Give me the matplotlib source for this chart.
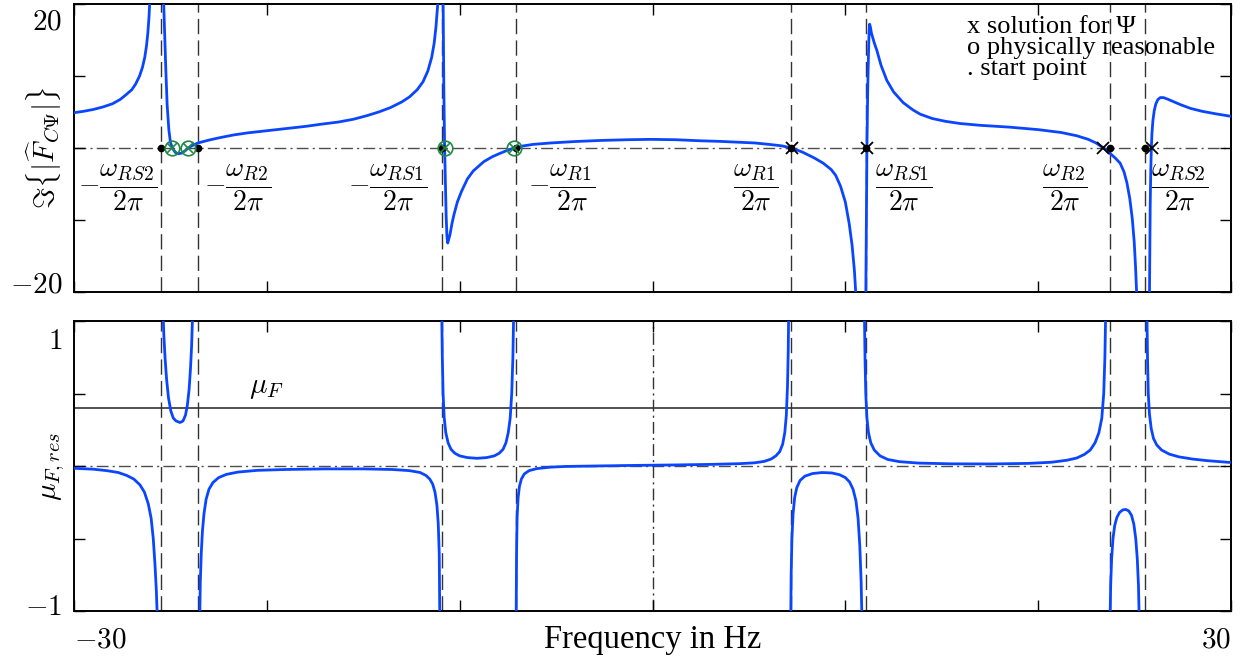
import numpy as np
import matplotlib
matplotlib.use('Agg')
import matplotlib.pyplot as plt

plt.rcParams['font.family'] = ['Liberation Serif', 'DejaVu Serif']
plt.rcParams['mathtext.fontset'] = 'cm'

# resonance / start frequencies (Hz), dashed lines
f_res = [-25.47, -23.57, -10.9, -7.08, 7.2, 11.05, 23.7, 25.55]
res_labels = [r'$-\dfrac{\omega_{RS2}}{2\pi}$', r'$-\dfrac{\omega_{R2}}{2\pi}$',
              r'$-\dfrac{\omega_{RS1}}{2\pi}$', r'$-\dfrac{\omega_{R1}}{2\pi}$',
              r'$\dfrac{\omega_{R1}}{2\pi}$', r'$\dfrac{\omega_{RS1}}{2\pi}$',
              r'$\dfrac{\omega_{R2}}{2\pi}$', r'$\dfrac{\omega_{RS2}}{2\pi}$']

# solutions for Psi
f_sol_phys = [-24.9, -24.08, -10.78, -7.19]
f_sol_other = [7.22, 11.1, 23.35, 25.9]

mu_F = 0.4

# top panel: Im{|F_CPsi|}, branches between poles
xA = [-30, -29.5, -29, -28.5, -28, -27.6, -27.3, -27.0, -26.8, -26.6, -26.45, -26.33, -26.24,
      -26.17, -26.11, -26.06]
yA = [4.9, 5.1, 5.35, 5.7, 6.15, 6.75, 7.4, 8.1, 8.9, 10.0, 11.2, 12.6, 14.2, 16.0, 18.2, 21]
xB = [-25.36, -25.3, -25.24, -25.17, -25.08, -25.0, -24.9, -24.75, -24.6, -24.4, -24.2, -24.08,
      -23.9, -23.57, -23.0, -22.5, -21.75, -21.0, -20.0, -19.0, -18.0, -17.2, -16.3, -15.5,
      -14.8, -14.2, -13.6, -13.0, -12.6, -12.2, -11.9, -11.65, -11.45, -11.32, -11.23, -11.16,
      -11.1]
yB = [21, 16, 11, 6, 2.5, 0.8, 0, -0.6, -0.8, -0.7, -0.3, 0, 0.3, 0.7, 1.1, 1.4, 1.8, 2.1,
      2.4, 2.7, 3.0, 3.3, 3.6, 4.0, 4.5, 5.0, 5.6, 6.4, 7.1, 8.1, 9.2, 10.7, 12.6, 14.6, 16.8,
      19.2, 21]
xC = [-10.86, -10.82, -10.78, -10.74, -10.7, -10.66, -10.62, -10.58, -10.5, -10.4, -10.3,
      -10.12, -9.9, -9.6, -9.3, -9.0, -8.75, -8.3, -7.87, -7.5, -7.19, -6.8, -6.2, -5.27, -4.0,
      -2.68, -1.3, -0.1, 1.2, 2.5, 3.5, 4.5, 5.3, 6.05, 6.7, 7.22, 7.8, 8.4, 8.85, 9.27, 9.5,
      9.75, 10.0, 10.2, 10.35, 10.47, 10.56]
yC = [21, 8, 0, -5, -9.5, -12.3, -13.2, -12.8, -12.0, -10.5, -9.3, -7.5, -6.0, -4.3, -3.2, -2.5,
      -1.9, -1.2, -0.7, -0.3, 0, 0.25, 0.5, 0.7, 0.9, 1.05, 1.15, 1.2, 1.15, 1.0, 0.92, 0.8, 0.7,
      0.5, 0.3, 0, -0.6, -1.4, -2.1, -3.0, -3.8, -5.3, -7.5, -10.5, -13.5, -17, -21]
xD = [11.06, 11.09, 11.12, 11.16, 11.2, 11.23, 11.26, 11.3, 11.35, 11.5, 11.63, 11.85, 12.15,
      12.5, 13.0, 13.5, 13.88, 14.5, 15.2, 15.95, 17.0, 18.5, 20.0, 21.2, 22.0, 22.6, 23.0,
      23.4, 23.75, 24.0, 24.25, 24.45, 24.6, 24.75, 24.88, 24.98, 25.05, 25.12]
yD = [-21, -10, 0, 8, 13, 16, 17.2, 16.8, 16.0, 14.6, 13.6, 11.5, 9.4, 7.8, 6.3, 5.3, 4.7, 4.1,
      3.7, 3.4, 3.15, 2.9, 2.55, 2.15, 1.7, 1.2, 0.7, 0, -0.8, -1.4, -2.1, -3.3, -4.8, -7.0,
      -9.8, -13, -16.5, -21]
xE = [25.77, 25.79, 25.81, 25.84, 25.87, 25.9, 25.95, 26.02, 26.1, 26.2, 26.33, 26.5, 26.7,
      27.0, 27.4, 27.9, 28.5, 29.2, 30]
yE = [-21, -14, -8, -3, 0, 2, 3.8, 5.2, 6.1, 6.7, 7.0, 7.0, 6.8, 6.45, 6.0, 5.5, 5.1, 4.75, 4.4]

# bottom panel: mu_F,res
bx1 = [-30, -29, -28.3, -27.7, -27.27, -26.9, -26.58, -26.35, -26.15, -26.0, -25.89, -25.8,
       -25.73, -25.68]
by1 = [-0.016, -0.022, -0.032, -0.045, -0.065, -0.09, -0.13, -0.18, -0.26, -0.36, -0.5, -0.68,
       -0.86, -1.05]
bx2 = [-25.38, -25.34, -25.28, -25.2, -25.1, -24.98, -24.85, -24.7, -24.5, -24.35, -24.22,
       -24.12, -24.03, -23.96, -23.9, -23.85]
by2 = [1.05, 0.9, 0.75, 0.6, 0.47, 0.38, 0.33, 0.31, 0.3, 0.31, 0.35, 0.42, 0.53, 0.67, 0.83,
       1.05]
bx3 = [-23.48, -23.45, -23.4, -23.34, -23.26, -23.15, -23.0, -22.8, -22.5, -22.1, -21.5, -20.5,
       -19, -17, -15, -13.5, -12.6, -12.05, -11.75, -11.55, -11.4, -11.28, -11.18, -11.11,
       -11.06, -11.03]
by3 = [-1.05, -0.8, -0.6, -0.45, -0.33, -0.23, -0.16, -0.115, -0.08, -0.058, -0.042, -0.03,
       -0.024, -0.02, -0.02, -0.024, -0.032, -0.045, -0.065, -0.09, -0.125, -0.18, -0.27, -0.4,
       -0.6, -1.05]
bx4 = [-10.93, -10.9, -10.86, -10.8, -10.72, -10.6, -10.45, -10.25, -10.0, -9.6, -9.1, -8.6,
       -8.2, -7.95, -7.75, -7.6, -7.48, -7.38, -7.3, -7.24, -7.2]
by4 = [1.05, 0.75, 0.5, 0.33, 0.23, 0.16, 0.115, 0.088, 0.07, 0.058, 0.053, 0.058, 0.07, 0.088,
       0.115, 0.16, 0.23, 0.33, 0.5, 0.75, 1.05]
bx5 = [-7.07, -7.05, -7.02, -6.97, -6.9, -6.8, -6.65, -6.4, -6.0, -5.3, -4.5, -3, -1, 1, 3, 4.5,
       5.3, 5.8, 6.15, 6.4, 6.6, 6.75, 6.86, 6.94, 7.0, 7.04, 7.06]
by5 = [-1.05, -0.6, -0.35, -0.22, -0.14, -0.09, -0.055, -0.032, -0.018, -0.008, -0.003, 0.0,
       0.004, 0.007, 0.011, 0.016, 0.022, 0.032, 0.048, 0.07, 0.1, 0.15, 0.23, 0.35, 0.55, 0.8,
       1.05]
bx6 = [7.17, 7.19, 7.23, 7.29, 7.37, 7.48, 7.65, 7.9, 8.3, 8.8, 9.3, 9.7, 10.0, 10.22, 10.4,
       10.55, 10.66, 10.75, 10.82, 10.86]
by6 = [-1.05, -0.75, -0.5, -0.33, -0.22, -0.15, -0.1, -0.07, -0.052, -0.045, -0.048, -0.06,
       -0.08, -0.11, -0.16, -0.24, -0.36, -0.55, -0.8, -1.05]
bx7 = [10.99, 11.02, 11.06, 11.12, 11.2, 11.32, 11.5, 11.8, 12.2, 12.8, 13.8, 15.5, 17.5, 19.5,
       20.7, 21.5, 22.0, 22.4, 22.7, 22.95, 23.15, 23.3, 23.4, 23.46, 23.5]
by7 = [1.05, 0.75, 0.5, 0.33, 0.23, 0.16, 0.11, 0.07, 0.045, 0.03, 0.02, 0.015, 0.014, 0.018,
       0.026, 0.04, 0.055, 0.08, 0.11, 0.16, 0.23, 0.33, 0.5, 0.75, 1.05]
bx8 = [23.73, 23.76, 23.81, 23.88, 23.97, 24.08, 24.22, 24.4, 24.55, 24.7, 24.84, 24.96, 25.06,
       25.14, 25.2, 25.24]
by8 = [-1.05, -0.82, -0.64, -0.5, -0.41, -0.355, -0.32, -0.302, -0.3, -0.31, -0.34, -0.4, -0.5,
       -0.64, -0.82, -1.05]
bx9 = [25.64, 25.67, 25.71, 25.77, 25.86, 25.98, 26.15, 26.4, 26.8, 27.3, 28.0, 28.75, 29.4, 30]
by9 = [1.05, 0.75, 0.5, 0.36, 0.26, 0.19, 0.145, 0.11, 0.082, 0.063, 0.048, 0.037, 0.03, 0.024]


def join(segs):
    xs, ys = [], []
    for sx, sy in segs:
        xs += list(sx) + [np.nan]
        ys += list(sy) + [np.nan]
    return np.array(xs), np.array(ys)


top_x, top_y = join([(xA, yA), (xB, yB), (xC, yC), (xD, yD), (xE, yE)])
bot_x, bot_y = join([(bx1, by1), (bx2, by2), (bx3, by3), (bx4, by4), (bx5, by5),
                     (bx6, by6), (bx7, by7), (bx8, by8), (bx9, by9)])

blue = '#0a46ff'
green = '#1f8a45'
dash = (0, (11, 4.5))
dashdot = (0, (8.5, 3, 1.5, 3))

fig = plt.figure(figsize=(12.44, 6.64), dpi=100)
ax1 = fig.add_axes([74 / 1244, 1 - 292 / 664, 1157 / 1244, 288 / 664])
ax2 = fig.add_axes([74 / 1244, 1 - 611 / 664, 1157 / 1244, 290 / 664])

for ax in (ax1, ax2):
    for f in f_res:
        ax.axvline(f, color='0.2', lw=1.0, linestyle=dash, zorder=1)
    ax.axhline(0, color='0.3', lw=1.0, linestyle=dashdot, zorder=1)
    ax.set_xlim(-30, 30)
    ax.set_xticks([-30, -20, -10, 0, 10, 20, 30])
    ax.tick_params(direction='in', length=8, width=1, top=True, right=True,
                   labelsize=21, pad=9)
    for s in ax.spines.values():
        s.set_linewidth(1.4)

# top panel
ax1.plot(top_x, top_y, color=blue, lw=2.0, zorder=3)
ax1.plot(f_res, np.zeros(len(f_res)), 'o', color='k', ms=4.5, zorder=5)
ax1.plot(f_sol_other, np.zeros(len(f_sol_other)), 'x', color='k', ms=8, mew=1.3, zorder=6)
ax1.plot(f_sol_phys, np.zeros(len(f_sol_phys)), 'x', color=green, ms=7, mew=1.2, zorder=6)
ax1.plot(f_sol_phys, np.zeros(len(f_sol_phys)), 'o', mfc='none', mec=green, ms=10.5,
         mew=1.2, zorder=6)
ax1.set_ylim(-20, 20)
ax1.set_yticks([-20, -10, 0, 10, 20])
ax1.set_yticklabels([])
ax1.set_xticklabels([])

lab_off = [(-3, 'right'), (4, 'left'), (-11, 'right'), (9, 'left'),
           (-9, 'right'), (7, 'left'), (-16, 'right'), (4, 'left')]
for f, txt, (dx, ha) in zip(f_res, res_labels, lab_off):
    ax1.annotate(txt, xy=(f, -5.5), xytext=(dx, 0), textcoords='offset points',
                 ha=ha, va='center', fontsize=20)

ax1.text(0.772, 0.96, 'x solution for Ψ\no physically reasonable\n. start point',
         transform=ax1.transAxes, ha='left', va='top', fontsize=19, linespacing=0.95)

ax1.set_ylabel(r'$\Im\{|\widehat{F}_{C\Psi}|\}$', fontsize=21)
ax1.yaxis.set_label_coords(-0.009, 0.5)

for val, txt, dy in [(20, r'$20$', -13.5), (-20, r'$-20$', 5)]:
    ax1.annotate(txt, xy=(0, val), xycoords=('axes fraction', 'data'), xytext=(-8.5, dy),
                 textcoords='offset points', ha='right', va='center', fontsize=21)

# bottom panel
ax2.axvline(0, color='0.2', lw=1.0, linestyle=dashdot, zorder=1)
ax2.axhline(mu_F, color='0.2', lw=1.2, zorder=1)
ax2.plot(bot_x, bot_y, color=blue, lw=2.0, zorder=3)
ax2.text(-20, mu_F + 0.05, r'$\mu_F$', ha='center', va='bottom', fontsize=21)
ax2.set_ylim(-1, 1)
ax2.set_yticks([-1, -0.5, 0, 0.5, 1])
ax2.set_yticklabels([])
ax2.set_xticklabels([r'$-30$', '', '', '', '', '', r'$30$'])
xl = ax2.get_xticklabels()
xl[0].set_horizontalalignment('left')
xl[-1].set_horizontalalignment('right')
ax2.tick_params(axis='x', pad=12)

for val, txt, dy in [(1, r'$1$', -15), (-1, r'$-1$', 2)]:
    ax2.annotate(txt, xy=(0, val), xycoords=('axes fraction', 'data'), xytext=(-8.5, dy),
                 textcoords='offset points', ha='right', va='center', fontsize=21)

ax2.set_ylabel(r'$\mu_{F,res}$', fontsize=21)
ax2.yaxis.set_label_coords(-0.006, 0.5)
ax2.set_xlabel('Frequency in Hz', fontsize=23.5)
ax2.xaxis.set_label_coords(0.5, -0.045)

fig.savefig('out.png', dpi=100)
